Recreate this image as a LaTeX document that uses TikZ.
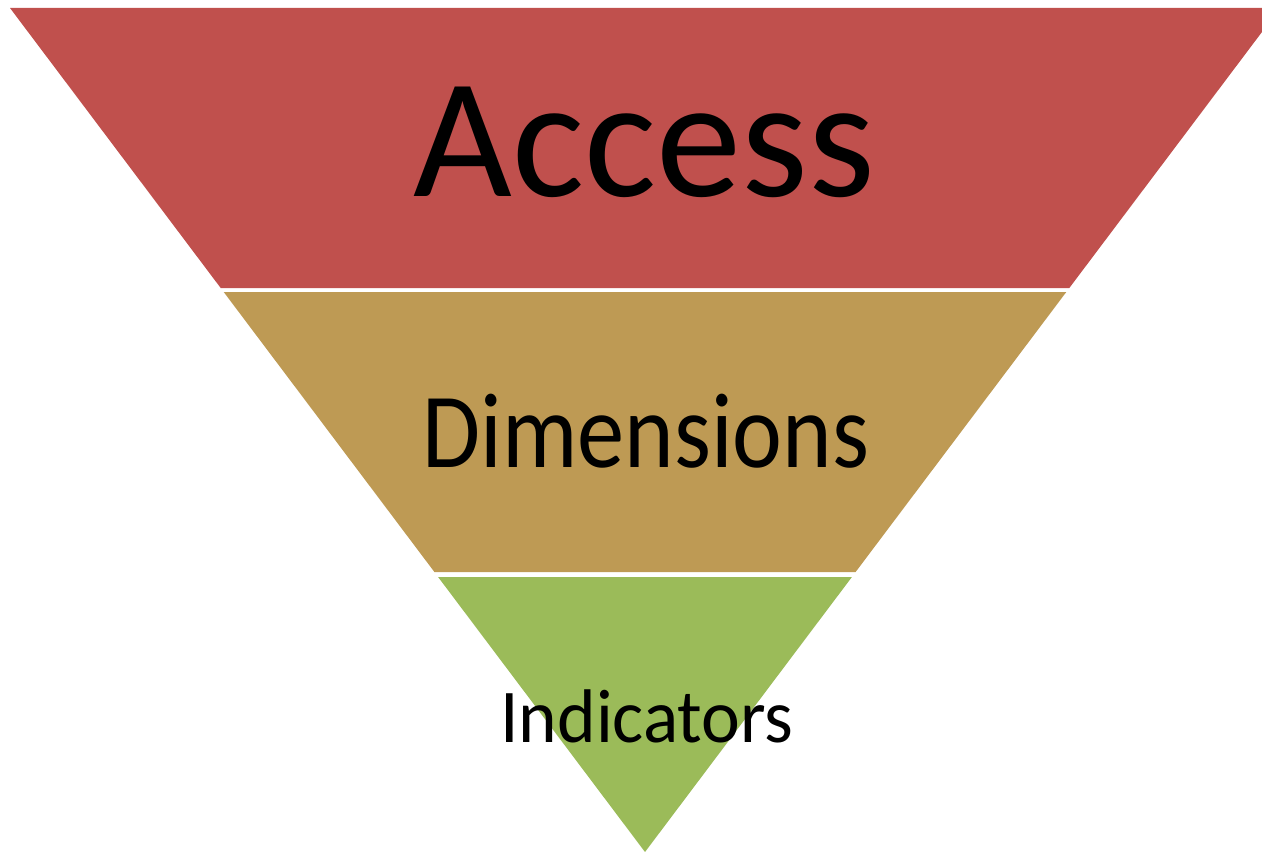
\documentclass[tikz,border=0pt]{standalone}
\usepackage{fontspec}
\setmainfont{Carlito}
\usepackage{xcolor}
\definecolor{accessred}{RGB}{192,80,77}
\definecolor{dimgold}{RGB}{190,154,84}
\definecolor{indgreen}{RGB}{155,187,89}
\begin{document}
\begin{tikzpicture}[x=0.75pt,y=0.75pt,yscale=-1,xscale=1,
  band/.style={draw opacity=0,fill opacity=1},
  label/.style={anchor=base,inner sep=0.75pt,text=black}]
        %set diagram left start at 0, and has height of 852
        \useasboundingbox (0,0) rectangle (1262,852);
        \clip (0,0) rectangle (1262,852);

        %Shape: Trapezoid [id:access]
        \draw  [band,fill=accessred] (10,8) -- (1280,8) -- (1069.3,288) -- (220.7,288) -- cycle ;
        %Shape: Trapezoid [id:dimensions]
        \draw  [band,fill=dimgold] (223.7,292) -- (1066.3,292) -- (855.6,572) -- (434.4,572) -- cycle ;
        %Shape: Triangle [id:indicators]
        \draw  [band,fill=indgreen] (438.1,577) -- (851.9,577) -- (645,852) -- cycle ;

        % Text Node
        \node (access) [label] at (644,197) {\fontsize{128}{128}\selectfont Access};
        % Text Node
        \node (dimensions) [label,xscale=0.885] at (646,467) {\fontsize{80}{80}\selectfont Dimensions};
        % Text Node
        \node (indicators) [label,xscale=0.967] at (647,742) {\fontsize{57}{57}\selectfont Indicators};

\end{tikzpicture}
\end{document}
